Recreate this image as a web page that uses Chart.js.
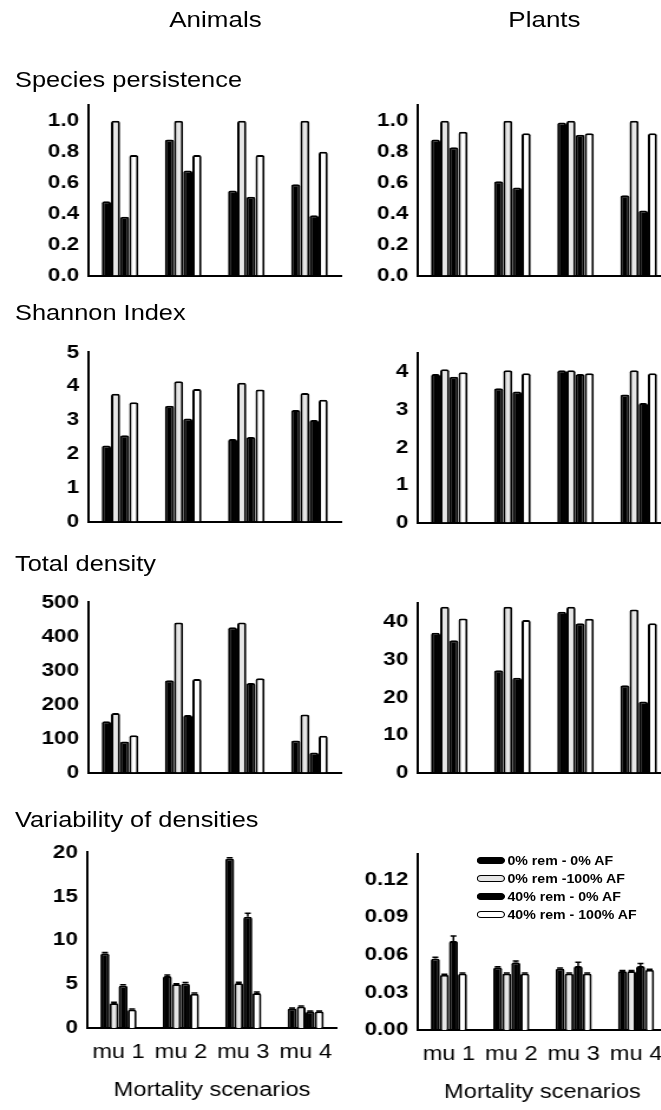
<!DOCTYPE html>
<html>
<head>
<meta charset="utf-8">
<script src="https://cdn.jsdelivr.net/npm/chart.js@4.4.0/dist/chart.umd.min.js"></script>
<style>
  body { margin: 0; background: #fff; width: 661px; height: 1110px; overflow: hidden; }
  #page {
    position: absolute; left: 0; top: 0; width: 560px; height: 1110px;
    transform: scaleX(1.18); transform-origin: 0 0;
    font-family: "Liberation Sans", Arial, sans-serif; color: #000;
  }
  .txt { position: absolute; white-space: nowrap; line-height: 1; }
  .box { position: absolute; }
  .legend-row { position: absolute; height: 14px; }
  .swatch { position: absolute; left: 0; top: 3px; width: 22px; height: 5px; border: 1.5px solid #000; border-radius: 4px; }
  .legend-row span { position: absolute; left: 26px; top: 0; font-size: 12px; font-weight: bold; line-height: 14px; white-space: nowrap; }
</style>
</head>
<body>
<div id="page"></div>
<script>
const scenarios = ['mu 1', 'mu 2', 'mu 3', 'mu 4'];
const seriesNames = ['0% rem - 0% AF', '0% rem -100% AF', '40% rem - 0% AF', '40% rem - 100% AF'];

// species persistence (one row per series, one value per scenario)
const animalsPersistence = [
  [0.48, 0.88, 0.55, 0.59],
  [1.00, 1.00, 1.00, 1.00],
  [0.38, 0.68, 0.51, 0.39],
  [0.78, 0.78, 0.78, 0.80]
];
const plantsPersistence = [
  [0.88, 0.61, 0.99, 0.52],
  [1.00, 1.00, 1.00, 1.00],
  [0.83, 0.57, 0.91, 0.42],
  [0.93, 0.92, 0.92, 0.92]
];

// Shannon index
const animalsShannon = [
  [2.25, 3.42, 2.44, 3.30],
  [3.78, 4.15, 4.10, 3.80],
  [2.55, 3.05, 2.50, 3.00],
  [3.53, 3.92, 3.90, 3.60]
];
const plantsShannon = [
  [3.95, 3.57, 4.05, 3.41],
  [4.08, 4.05, 4.05, 4.05],
  [3.88, 3.49, 3.95, 3.18],
  [4.00, 3.97, 3.97, 3.97]
];

// total density
const animalsDensity = [
  [151, 271, 427, 94],
  [175, 441, 441, 171],
  [91, 169, 263, 59],
  [110, 275, 277, 108]
];
const plantsDensity = [
  [37.2, 27.2, 42.8, 23.2],
  [44.1, 44.1, 44.1, 43.4],
  [35.2, 25.2, 39.7, 18.9],
  [41.0, 40.6, 40.9, 39.7]
];

// variability of densities, with standard errors
const animalsVariability = [
  [8.5, 5.93, 19.3, 2.24],
  [2.84, 5.0, 5.12, 2.46],
  [4.83, 5.08, 12.67, 1.9],
  [2.1, 3.9, 4.0, 1.9]
];
const animalsVariabilityErr = [
  [0.1, 0.1, 0.1, 0.05],
  [0.1, 0.05, 0.1, 0.05],
  [0.1, 0.1, 0.4, 0.05],
  [0.05, 0.1, 0.1, 0.05]
];
const plantsVariability = [
  [0.057, 0.050, 0.049, 0.047],
  [0.044, 0.045, 0.045, 0.047],
  [0.071, 0.054, 0.051, 0.051],
  [0.045, 0.045, 0.045, 0.048]
];
const plantsVariabilityErr = [
  [0.001, 0.0005, 0.0005, 0.0005],
  [0.0005, 0.0005, 0.0005, 0.0005],
  [0.004, 0.001, 0.003, 0.002],
  [0.0005, 0.0005, 0.0005, 0.0005]
];

// y tick labels
const persistenceTicks = [0, 0.2, 0.4, 0.6, 0.8, 1.0];
const shannonTicksAnimals = [0, 1, 2, 3, 4, 5];
const shannonTicksPlants = [0, 1, 2, 3, 4];
const densityTicksAnimals = [0, 100, 200, 300, 400, 500];
const densityTicksPlants = [0, 10, 20, 30, 40];
const variabilityTicksAnimals = [0, 5, 10, 15, 20];
const variabilityTicksPlants = [0, 0.03, 0.06, 0.09, 0.12];

const fills = ['#000000', '#e6e6e6', '#000000', '#ffffff'];
const FONT = '"Liberation Sans", Arial, sans-serif';
Chart.defaults.font.family = FONT;
Chart.defaults.color = '#000';

const page = document.getElementById('page');
const Y_W = 60, AREA_W = 214, PAD_R = 6, PAD_T = 14, PAD_B = 14;

// whiskers above the bars, read from each dataset's errors list
const errorBars = {
  id: 'errorBars',
  afterDatasetsDraw(chart) {
    const ctx = chart.ctx;
    const y = chart.scales.y;
    chart.data.datasets.forEach((ds, i) => {
      if (!ds.errors) return;
      chart.getDatasetMeta(i).data.forEach((bar, j) => {
        const top = y.getPixelForValue(ds.data[j] + ds.errors[j]);
        ctx.save();
        ctx.strokeStyle = '#000';
        ctx.lineWidth = 1.5;
        ctx.beginPath();
        ctx.moveTo(bar.x, bar.y);
        ctx.lineTo(bar.x, top);
        ctx.moveTo(bar.x - 2.5, top);
        ctx.lineTo(bar.x + 2.5, top);
        ctx.stroke();
        ctx.restore();
      });
    });
  }
};

function addText(str, left, top, size, opts) {
  const d = document.createElement('div');
  d.className = 'txt';
  d.textContent = str;
  d.style.left = left + 'px';
  d.style.top = top + 'px';
  d.style.fontSize = size + 'px';
  if (opts && opts.width) {
    d.style.width = opts.width + 'px';
    d.style.textAlign = 'center';
  }
  page.appendChild(d);
}

function makeChart(p) {
  const xH = p.bottom ? 74 : 0;
  const padB = p.bottom ? 4 : PAD_B;
  const box = document.createElement('div');
  box.className = 'box';
  box.style.left = (p.x - Y_W) + 'px';
  box.style.top = (p.top - PAD_T) + 'px';
  const canvas = document.createElement('canvas');
  canvas.width = Y_W + AREA_W + PAD_R;
  canvas.height = PAD_T + (p.zero - p.top) + xH + padB;
  box.appendChild(canvas);
  page.appendChild(box);

  new Chart(canvas, {
    type: 'bar',
    data: {
      labels: scenarios,
      datasets: p.values.map((vals, i) => ({
        label: seriesNames[i],
        data: vals,
        errors: p.errors ? p.errors[i] : null,
        backgroundColor: fills[i],
        borderColor: '#000',
        borderWidth: 2,
        borderRadius: { topLeft: 2, topRight: 2 },
        borderSkipped: 'bottom',
        categoryPercentage: 0.58,
        barPercentage: 1.0
      }))
    },
    options: {
      responsive: false,
      animation: false,
      layout: { padding: { top: PAD_T, right: PAD_R, bottom: padB, left: 0 } },
      plugins: { legend: { display: false }, tooltip: { enabled: false } },
      scales: {
        x: {
          offset: true,
          afterFit: s => { s.height = xH; },
          grid: { display: false, drawTicks: false },
          border: { display: true, color: '#000', width: 2 },
          ticks: { display: !!p.bottom, font: { size: 20 }, padding: 12, maxRotation: 0, autoSkip: false },
          title: { display: !!p.bottom, text: 'Mortality scenarios', font: { size: 20 }, padding: { top: 0, bottom: 0 } }
        },
        y: {
          min: 0,
          max: p.max,
          afterBuildTicks: s => { s.ticks = p.ticks.map(v => ({ value: v })); },
          afterFit: s => { s.width = Y_W; },
          grid: { display: false, drawTicks: false },
          border: { display: true, color: '#000', width: 2 },
          ticks: { callback: v => v.toFixed(p.dec), font: { size: 19, weight: 'bold' }, padding: 8 }
        }
      }
    },
    plugins: [errorBars]
  });
}

const LX = 75.4, RX = 354.2;
const panels = [
  { values: animalsPersistence, ticks: persistenceTicks, max: 1.1, dec: 1, x: LX, top: 100, zero: 281 },
  { values: plantsPersistence, ticks: persistenceTicks, max: 1.1, dec: 1, x: RX, top: 100, zero: 281 },
  { values: animalsShannon, ticks: shannonTicksAnimals, max: 5, dec: 0, x: LX, top: 347, zero: 527 },
  { values: plantsShannon, ticks: shannonTicksPlants, max: 4.5, dec: 0, x: RX, top: 348, zero: 528 },
  { values: animalsDensity, ticks: densityTicksAnimals, max: 500, dec: 0, x: LX, top: 597, zero: 778 },
  { values: plantsDensity, ticks: densityTicksPlants, max: 45, dec: 0, x: RX, top: 598, zero: 778 },
  { values: animalsVariability, errors: animalsVariabilityErr, ticks: variabilityTicksAnimals, max: 20, dec: 0, x: 73.7, top: 847, zero: 1028, bottom: true },
  { values: plantsVariability, errors: plantsVariabilityErr, ticks: variabilityTicksPlants, max: 0.14, dec: 2, x: RX, top: 849, zero: 1030, bottom: true }
];
panels.forEach(makeChart);

// column headers and row titles
addText('Animals', 82.6, 9, 22, { width: 200 });
addText('Plants', 361.4, 9, 22, { width: 200 });
addText('Species persistence', 12.7, 70, 21.5);
addText('Shannon Index', 12.7, 303, 21.5);
addText('Total density', 12.7, 554, 21.5);
addText('Variability of densities', 12.7, 810, 21.5);

// legend inside the plants variability panel
const legendTops = [854, 872, 890, 908];
seriesNames.forEach((name, i) => {
  const row = document.createElement('div');
  row.className = 'legend-row';
  row.style.left = '404px';
  row.style.top = legendTops[i] + 'px';
  const sw = document.createElement('div');
  sw.className = 'swatch';
  sw.style.background = fills[i];
  const label = document.createElement('span');
  label.textContent = name;
  row.appendChild(sw);
  row.appendChild(label);
  page.appendChild(row);
});
</script>
</body>
</html>
